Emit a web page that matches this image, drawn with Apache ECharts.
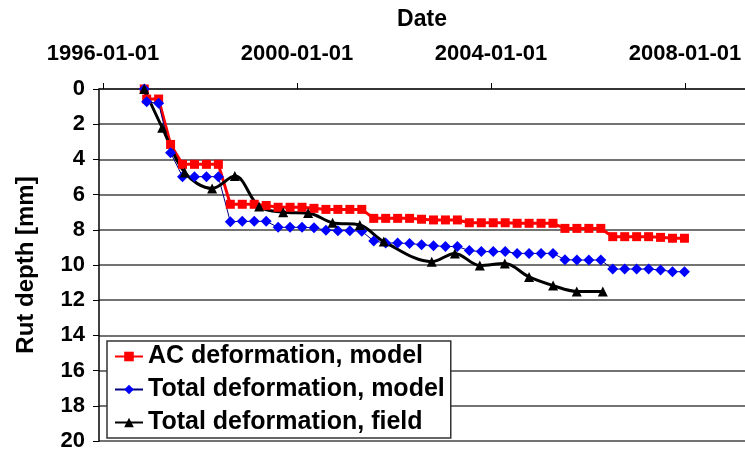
<!DOCTYPE html>
<html>
<head>
<meta charset="utf-8">
<script src="https://cdn.jsdelivr.net/npm/echarts@6/dist/echarts.min.js"></script>
<style>html,body{margin:0;padding:0;background:#fff}#c{width:745px;height:452px}</style>
</head>
<body>
<div id="c"></div>
<script>
// ---- data ----
const seriesNames = ['AC deformation, model', 'Total deformation, model', 'Total deformation, field'];
const xTickLabels = ['1996-01-01', '2000-01-01', '2004-01-01', '2008-01-01'];
const yTicks = [0, 2, 4, 6, 8, 10, 12, 14, 16, 18, 20];

const modelDates = ['1996-11-07',
  '1996-11-25','1997-02-23','1997-05-24','1997-08-22','1997-11-20','1998-02-18','1998-05-19','1998-08-17',
  '1998-11-15','1999-02-13','1999-05-14','1999-08-12','1999-11-10','2000-02-08','2000-05-08','2000-08-06',
  '2000-11-04','2001-02-02','2001-05-03','2001-08-01','2001-10-30','2002-01-28','2002-04-28','2002-07-27',
  '2002-10-25','2003-01-23','2003-04-23','2003-07-22','2003-10-20','2004-01-18','2004-04-17','2004-07-16',
  '2004-10-14','2005-01-12','2005-04-12','2005-07-11','2005-10-09','2006-01-07','2006-04-07','2006-07-06',
  '2006-10-04','2007-01-02','2007-04-02','2007-07-01','2007-09-29','2007-12-28'];
const acModel = [0,
  0.57,0.57,3.15,4.28,4.28,4.28,4.28,6.55,
  6.55,6.55,6.62,6.72,6.72,6.72,6.78,6.84,
  6.84,6.84,6.84,7.35,7.35,7.35,7.35,7.40,
  7.44,7.44,7.44,7.60,7.60,7.60,7.60,7.63,
  7.63,7.63,7.63,7.92,7.92,7.92,7.92,8.39,
  8.39,8.39,8.39,8.43,8.48,8.48];
const totalModel = [0,
  0.72,0.81,3.62,4.98,4.98,4.98,4.98,7.54,
  7.52,7.52,7.52,7.86,7.86,7.86,7.88,8.02,
  8.05,8.05,8.08,8.64,8.75,8.75,8.78,8.85,
  8.90,8.95,8.95,9.18,9.24,9.24,9.24,9.34,
  9.34,9.34,9.34,9.70,9.72,9.72,9.72,10.23,
  10.23,10.23,10.23,10.28,10.38,10.38];
const fieldDates = ['1996-11-07','1997-03-22','1997-09-08','1998-04-02','1998-09-20','1999-03-22','1999-09-19',
  '2000-03-25','2000-09-25','2001-04-18','2001-10-16','2002-10-12','2003-04-04','2003-10-09','2004-04-14',
  '2004-10-14','2005-04-13','2005-10-08','2006-04-22'];
const totalField = [0,2.2,4.75,5.65,4.95,6.68,7.0,7.05,7.6,7.73,8.67,9.81,9.34,10.03,9.92,10.68,11.17,11.5,11.5];

// ---- chart ----
const FONT = '"Liberation Sans", Arial, sans-serif';
const toTs = s => { const p = s.split('-').map(Number); return Date.UTC(p[0], p[1]-1, p[2]); };
const pairs = (d, v) => d.map((s, i) => [toTs(s), v[i]]);
const tickTs = xTickLabels.map(toTs);

const chart = echarts.init(document.getElementById('c'), null, {renderer: 'canvas'});
chart.setOption({
  animation: false,
  backgroundColor: '#fff',
  textStyle: {fontFamily: FONT},
  grid: {left: 99, top: 89, right: -2, bottom: 11, containLabel: false},
  xAxis: {
    type: 'value', position: 'top', scale: true,
    min: toTs('1995-12-02'), max: toTs('2009-03-28'),
    name: 'Date', nameLocation: 'middle', nameGap: 58,
    nameTextStyle: {fontSize: 23, fontWeight: 'bold', color: '#000', fontFamily: FONT},
    axisLine: {show: true, lineStyle: {color: '#222', width: 1.5}},
    axisTick: {show: true, inside: false, length: 6, customValues: tickTs, lineStyle: {color: '#000', width: 1}},
    axisLabel: {customValues: tickTs, margin: 24, fontSize: 22, fontWeight: 'bold', color: '#000', fontFamily: FONT,
      showMinLabel: true, showMaxLabel: true,
      formatter: v => { let best = 0; tickTs.forEach((t, i) => { if (Math.abs(t - v) < Math.abs(tickTs[best] - v)) best = i; }); return xTickLabels[best]; }},
    splitLine: {show: false}
  },
  yAxis: {
    type: 'value', inverse: true, min: yTicks[0], max: yTicks[yTicks.length-1], interval: 2,
    name: 'Rut depth [mm]', nameLocation: 'middle', nameGap: 61, nameRotate: 90,
    nameTextStyle: {fontSize: 24, fontWeight: 'bold', color: '#000', fontFamily: FONT},
    axisLine: {show: true, lineStyle: {color: '#000', width: 1.5}},
    axisTick: {show: true, inside: false, length: 6, lineStyle: {color: '#000'}},
    axisLabel: {margin: 14, fontSize: 22, fontWeight: 'bold', color: '#000', fontFamily: FONT},
    splitLine: {show: true, lineStyle: {color: '#444', width: 1.5}}
  },
  legend: {
    orient: 'vertical', left: 107, top: 341,
    padding: [3, 6, 3, 7], itemGap: 8, itemWidth: 28, itemHeight: 12,
    backgroundColor: '#fff', borderColor: '#333', borderWidth: 1.5,
    textStyle: {fontSize: 25, fontWeight: 'bold', color: '#000', lineHeight: 25, fontFamily: FONT},
    data: seriesNames
  },
  series: [
    {name: seriesNames[0], type: 'line', data: pairs(modelDates, acModel),
     symbol: 'rect', symbolSize: 9, color: '#ff0000',
     lineStyle: {color: '#ff0000', width: 3}, itemStyle: {color: '#ff0000'}},
    {name: seriesNames[1], type: 'line', data: pairs(modelDates, totalModel),
     symbol: 'diamond', symbolSize: 11, color: '#0000ff',
     lineStyle: {color: '#000080', width: 1}, itemStyle: {color: '#0000ff'}},
    {name: seriesNames[2], type: 'line', data: pairs(fieldDates, totalField),
     symbol: 'triangle', symbolSize: 10, smooth: 0.35, color: '#000',
     lineStyle: {color: '#000', width: 3}, itemStyle: {color: '#000'}}
  ]
});
</script>
</body>
</html>
